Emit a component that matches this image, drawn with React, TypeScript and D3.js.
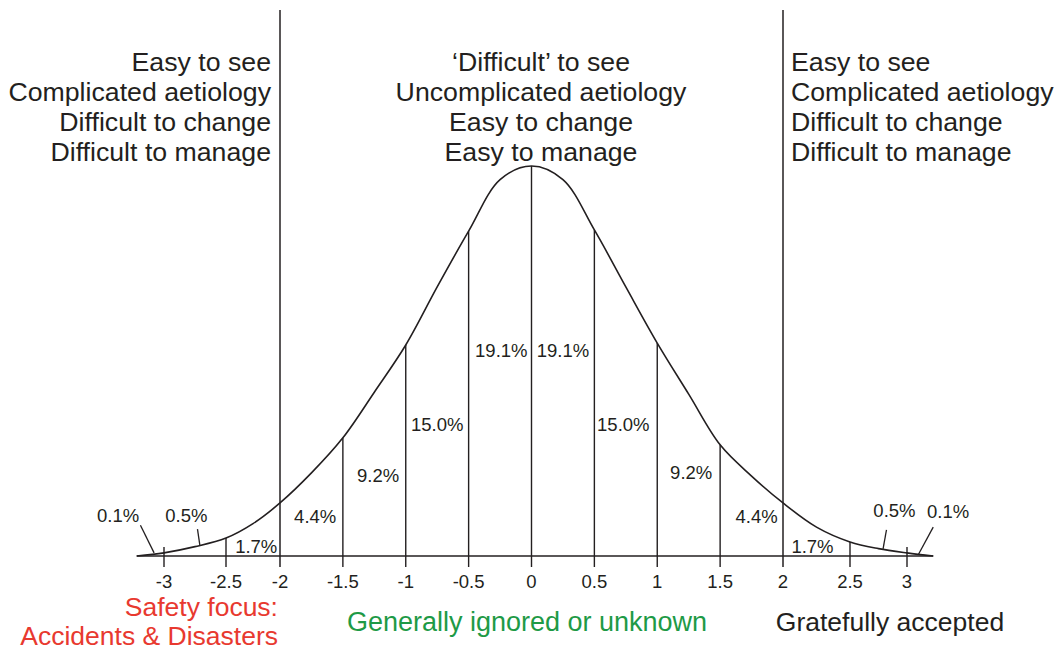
import React from 'react';
import * as d3 from 'd3';

// tick values along the axis (standard deviations)
const TICKS = [-3, -2.5, -2, -1.5, -1, -0.5, 0, 0.5, 1, 1.5, 2, 2.5, 3];

// bell curve: x in SD units, height as share of the peak
const CURVE_X = [-3.22, -3, -2.75, -2.5, -2.25, -2, -1.75, -1.5, -1.25, -1, -0.75, -0.5, -0.25, 0,
  0.25, 0.5, 0.75, 1, 1.25, 1.5, 1.75, 2, 2.25, 2.5, 2.75, 3, 3.23];
const CURVE_Y = [0, 0.008, 0.024, 0.046, 0.083, 0.136, 0.213, 0.303, 0.42, 0.541, 0.69, 0.833, 0.965, 1,
  0.965, 0.836, 0.69, 0.546, 0.415, 0.285, 0.205, 0.136, 0.074, 0.036, 0.019, 0.008, 0];

// segment dividers that stop at the curve
const DIVIDERS = [-2.5, -1.5, -1, -0.5, 0, 0.5, 1, 1.5, 2.5];
const BOUNDS = [-2, 2];
const SHORT_TICKS = [-3, 3];

// share of the population per band
const SEG_LABELS = ['0.1%', '0.5%', '1.7%', '4.4%', '9.2%', '15.0%', '19.1%',
  '19.1%', '15.0%', '9.2%', '4.4%', '1.7%', '0.5%', '0.1%'];
const SEG_X = [-3.37, -2.82, -2.22, -1.72, -1.22, -0.75, -0.24, 0.25, 0.73, 1.27, 1.79, 2.22, 2.89, 3.36];
const SEG_Y = [0.087, 0.087, 0.008, 0.085, 0.19, 0.32, 0.51, 0.51, 0.32, 0.197, 0.085, 0.008, 0.1, 0.097];

// leader lines for the tiny tail bands
const LEADERS = [
  [-3.19, 0.079, -3.08, 0.008],
  [-2.73, 0.069, -2.71, 0.026],
  [2.82, 0.067, 2.79, 0.018],
  [3.23, 0.074, 3.1, 0.004],
];

const LEFT_TEXT = ['Easy to see', 'Complicated aetiology', 'Difficult to change', 'Difficult to manage'];
const MID_TEXT = ['\u2018Difficult\u2019 to see', 'Uncomplicated aetiology', 'Easy to change', 'Easy to manage'];
const RIGHT_TEXT = ['Easy to see', 'Complicated aetiology', 'Difficult to change', 'Difficult to manage'];

const FONT = '"Liberation Sans", Arial, Helvetica, sans-serif';
const INK = '#231f20';

export default function App() {
  const width = 1057;
  const height = 655;

  // the hand-drawn axis is slightly uneven in the tails
  const x = d3
    .scaleLinear()
    .domain([-3, -2.5, -2, 2, 2.5, 3])
    .range([164, 226, 280, 783, 850, 907]);
  const y = d3.scaleLinear().domain([0, 1]).range([556, 166]);
  const base = y(0);

  const pts: [number, number][] = CURVE_X.map((v, i) => [v, CURVE_Y[i]]);
  const line = d3
    .line<[number, number]>()
    .x((d) => x(d[0]))
    .y((d) => y(d[1]))
    .curve(d3.curveCatmullRom.alpha(0.5));

  const heightAt = (v: number) => CURVE_Y[CURVE_X.indexOf(v)];

  const headerLines = (lines: string[], px: number, anchor: string) =>
    lines.map((t, i) => (
      <text key={t + i} x={px} y={71 + i * 30} textAnchor={anchor} fontSize={26.7} fill={INK}>
        {t}
      </text>
    ));

  return (
    <svg
      width={width}
      height={height}
      style={{ position: 'absolute', left: 0, top: 0, background: '#fff' }}
      fontFamily={FONT}
    >
      {/* baseline */}
      <line x1={x(-3.22)} x2={x(3.23)} y1={base} y2={base} stroke={INK} strokeWidth={1.5} />

      {/* -2 / +2 boundaries */}
      {BOUNDS.map((v) => (
        <line key={v} x1={x(v)} x2={x(v)} y1={10} y2={base + 11} stroke={INK} strokeWidth={1.5} />
      ))}

      {/* band dividers */}
      {DIVIDERS.map((v) => (
        <line key={v} x1={x(v)} x2={x(v)} y1={y(heightAt(v))} y2={base + 11} stroke={INK} strokeWidth={1.4} />
      ))}
      {SHORT_TICKS.map((v) => (
        <line key={v} x1={x(v)} x2={x(v)} y1={base - 9} y2={base + 11} stroke={INK} strokeWidth={1.4} />
      ))}

      {/* the curve */}
      <path d={line(pts) || ''} fill="none" stroke={INK} strokeWidth={1.6} />

      {/* leaders */}
      {LEADERS.map((l, i) => (
        <line key={i} x1={x(l[0])} y1={y(l[1])} x2={x(l[2])} y2={y(l[3])} stroke={INK} strokeWidth={1.3} />
      ))}

      {/* band shares */}
      {SEG_LABELS.map((t, i) => (
        <text key={i} x={x(SEG_X[i])} y={y(SEG_Y[i])} textAnchor="middle" fontSize={18.5} fill={INK}>
          {t}
        </text>
      ))}

      {/* tick labels */}
      {TICKS.map((v) => (
        <text key={v} x={x(v)} y={588} textAnchor="middle" fontSize={18.5} fill={INK}>
          {String(v)}
        </text>
      ))}

      {/* header blocks */}
      {headerLines(LEFT_TEXT, 271, 'end')}
      {headerLines(MID_TEXT, 541, 'middle')}
      {headerLines(RIGHT_TEXT, 791, 'start')}

      {/* footer */}
      <text x={278} y={616} textAnchor="end" fontSize={26.5} fill="#e8392f">Safety focus:</text>
      <text x={278} y={645} textAnchor="end" fontSize={26.5} fill="#e8392f">Accidents &amp; Disasters</text>
      <text x={527} y={631} textAnchor="middle" fontSize={27} fill="#1e9a46">Generally ignored or unknown</text>
      <text x={890} y={631} textAnchor="middle" fontSize={26.5} fill={INK}>Gratefully accepted</text>
    </svg>
  );
}
